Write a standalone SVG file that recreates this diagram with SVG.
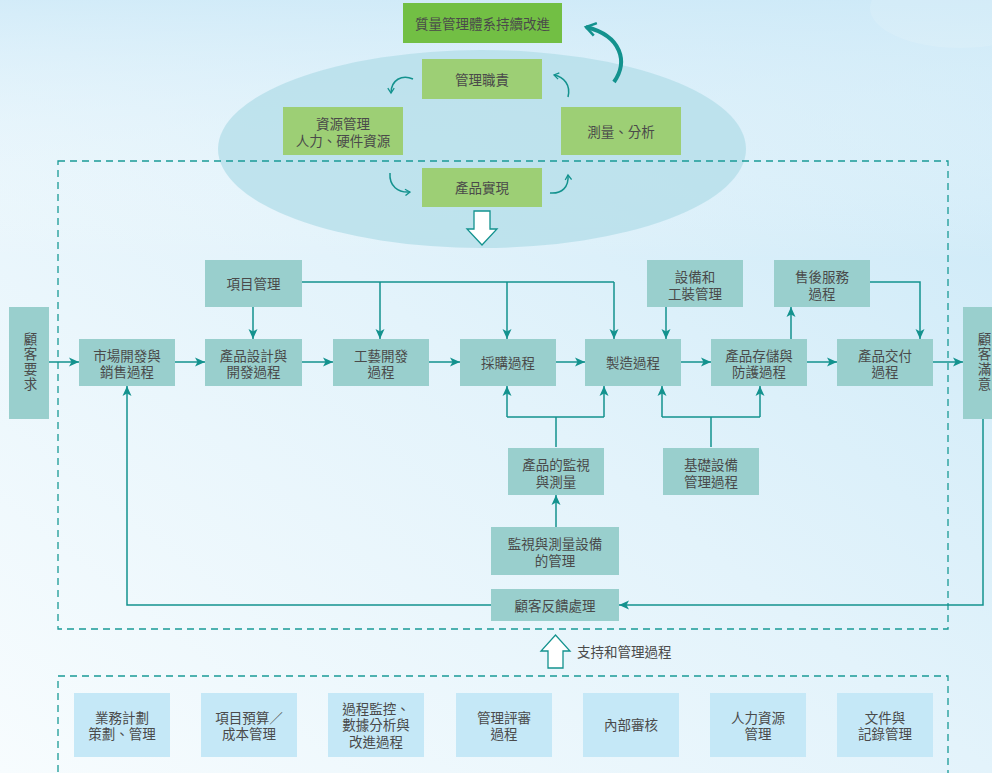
<svg xmlns="http://www.w3.org/2000/svg" width="992" height="773" viewBox="0 0 992 773">
<defs>
<linearGradient id="bg" x1="0" y1="1" x2="1" y2="0">
<stop offset="0" stop-color="#f7fcfe"/>
<stop offset="0.5" stop-color="#e3f3fb"/>
<stop offset="1" stop-color="#c9e8f7"/>
</linearGradient>
<linearGradient id="bg2" x1="0" y1="0" x2="0" y2="1">
<stop offset="0" stop-color="#cfeaf8" stop-opacity="0.8"/>
<stop offset="1" stop-color="#ffffff" stop-opacity="0"/>
</linearGradient>
<marker id="ah" viewBox="0 0 10 10" refX="10" refY="5" markerWidth="10" markerHeight="10" markerUnits="userSpaceOnUse" orient="auto">
<path d="M0,0.5 L10,5 L0,9.5 L2.5,5 z" fill="#13928e"/>
</marker>
<marker id="sh" viewBox="0 0 10 10" refX="8" refY="5" markerWidth="8" markerHeight="8" markerUnits="userSpaceOnUse" orient="auto">
<path d="M2,1 L8,5 L2,9" fill="none" stroke="#13928e" stroke-width="1.6"/>
</marker>
<marker id="bh" viewBox="0 0 10 10" refX="8" refY="5" markerWidth="16" markerHeight="16" markerUnits="userSpaceOnUse" orient="auto">
<path d="M2,1 L8,5 L2,9" fill="none" stroke="#13928e" stroke-width="1.6"/>
</marker>
</defs>
<style>
text{font-family:"Liberation Sans","Noto Sans CJK TC","Noto Sans CJK SC",sans-serif;font-size:13.5px;fill:#4a4a4a;text-anchor:middle;dominant-baseline:central}
.v{writing-mode:vertical-rl;letter-spacing:1.5px}
.p{fill:#99cfcd}
.g{fill:#9dcf75}
.gt{fill:#72bf44}
.b{fill:#c5e8f7}
.c{fill:none;stroke:#13928e;stroke-width:1.5}
.ca{fill:none;stroke:#13928e;stroke-width:1.5;marker-end:url(#ah)}
.d{fill:none;stroke:#1a9a96;stroke-width:1.3;stroke-dasharray:7,5}
</style>
<rect width="992" height="773" fill="url(#bg)"/>
<rect width="992" height="260" fill="url(#bg2)"/>
<ellipse cx="960" cy="8" rx="90" ry="40" fill="#ffffff" opacity="0.12"/>

<ellipse cx="482" cy="149" rx="264" ry="99" fill="#b5dfea" opacity="0.8"/>

<g id="frames">
<rect class="d" x="58" y="161" width="890" height="468"/>
<rect class="d" x="58" y="676" width="890" height="100"/>
</g>

<g id="connectors">
<path d="M614,82 C628,62 622,36 586,27" fill="none" stroke="#13928e" stroke-width="4" marker-end="url(#bh)"/>
<path d="M413,79 C402,74 391,80 391,93" class="c" marker-end="url(#sh)"/>
<path d="M568,97 C571,85 564,77 554,75" class="c" marker-end="url(#sh)"/>
<path d="M390,173 C389,186 398,193 410,192" class="c" marker-end="url(#sh)"/>
<path d="M550,193 C562,194 569,187 568,175" class="c" marker-end="url(#sh)"/>
<path d="M474,211 H490 V229 H497 L482,245 L467,229 H474 Z" fill="#ffffff" stroke="#13928e" stroke-width="1.3"/>
<path d="M548,668 H563 V651 H570 L555.5,635 L541,651 H548 Z" fill="#ffffff" stroke="#13928e" stroke-width="1.3"/>

<path class="ca" d="M49,362 H79"/>
<path class="ca" d="M175,362 H205"/>
<path class="ca" d="M302,362 H333"/>
<path class="ca" d="M429,362 H460"/>
<path class="ca" d="M556,362 H585"/>
<path class="ca" d="M681,362 H711"/>
<path class="ca" d="M807,362 H837"/>
<path class="ca" d="M933,362 H963"/>
<path class="ca" d="M253,307 V339"/>
<path class="c" d="M302,282 H614"/>
<path class="ca" d="M380,282 V339"/>
<path class="ca" d="M507,282 V339"/>
<path class="ca" d="M614,282 V339"/>
<path class="ca" d="M666,307 V339"/>
<path class="ca" d="M791,339 V307"/>
<path class="ca" d="M870,282 H920 V339"/>
<path class="c" d="M556,447 V417 M507,417 H604"/>
<path class="ca" d="M507,417 V386"/>
<path class="ca" d="M604,417 V386"/>
<path class="c" d="M711,447 V417 M662,417 H760"/>
<path class="ca" d="M662,417 V386"/>
<path class="ca" d="M760,417 V386"/>
<path class="ca" d="M556,527 V495"/>
<path class="ca" d="M983,418 V605 H619"/>
<path class="ca" d="M491,605 H127 V386"/>
</g>

<g id="n-top"><rect class="gt" x="403" y="3" width="159" height="40"/><text x="482.5" y="24" font-size="14">質量管理體系持續改進</text></g>
<g id="n-mgmt"><rect class="g" x="422" y="59" width="120" height="40"/><text x="482" y="80">管理職責</text></g>
<g id="n-res"><rect class="g" x="283" y="107" width="120" height="48"/><text x="343" y="124">資源管理<tspan x="343" dy="17">人力、硬件資源</tspan></text></g>
<g id="n-meas"><rect class="g" x="561" y="107" width="120" height="48"/><text x="621" y="132">測量、分析</text></g>
<g id="n-real"><rect class="g" x="422" y="168" width="120" height="39"/><text x="482" y="188.5">產品實現</text></g>
<text x="577" y="652" style="text-anchor:start">支持和管理過程</text>

<g id="n-req"><rect class="p" x="9" y="307" width="40" height="112"/><text class="v" x="29" y="362">顧客要求</text></g>
<g id="n-sat"><rect class="p" x="963" y="307" width="32" height="112"/><text class="v" x="983" y="362">顧客滿意</text></g>

<g id="n-proj"><rect class="p" x="205" y="260" width="97" height="47"/><text x="253.5" y="284.5">項目管理</text></g>
<g id="n-equip"><rect class="p" x="647" y="260" width="96" height="47"/><text x="695" y="277">設備和<tspan x="695" dy="17">工裝管理</tspan></text></g>
<g id="n-after"><rect class="p" x="774" y="260" width="96" height="47"/><text x="822" y="277">售後服務<tspan x="822" dy="17">過程</tspan></text></g>

<g id="n-mkt"><rect class="p" x="79" y="339" width="96" height="47"/><text x="127" y="356">市場開發與<tspan x="127" dy="16">銷售過程</tspan></text></g>
<g id="n-design"><rect class="p" x="205" y="339" width="97" height="47"/><text x="253.5" y="356">產品設計與<tspan x="253.5" dy="16">開發過程</tspan></text></g>
<g id="n-tech"><rect class="p" x="333" y="339" width="96" height="47"/><text x="381" y="356">工藝開發<tspan x="381" dy="16">過程</tspan></text></g>
<g id="n-buy"><rect class="p" x="460" y="339" width="96" height="47"/><text x="508" y="363.5">採購過程</text></g>
<g id="n-mfg"><rect class="p" x="585" y="339" width="96" height="47"/><text x="633" y="363.5">製造過程</text></g>
<g id="n-store"><rect class="p" x="711" y="339" width="96" height="47"/><text x="759" y="356">產品存儲與<tspan x="759" dy="16">防護過程</tspan></text></g>
<g id="n-deliv"><rect class="p" x="837" y="339" width="96" height="47"/><text x="885" y="356">產品交付<tspan x="885" dy="16">過程</tspan></text></g>

<g id="n-monitor"><rect class="p" x="508" y="448" width="96" height="47"/><text x="556" y="465">產品的監視<tspan x="556" dy="17">與測量</tspan></text></g>
<g id="n-infra"><rect class="p" x="663" y="448" width="96" height="47"/><text x="711" y="465">基礎設備<tspan x="711" dy="17">管理過程</tspan></text></g>
<g id="n-mdev"><rect class="p" x="491" y="527" width="128" height="48"/><text x="555" y="544">監視與測量設備<tspan x="555" dy="17">的管理</tspan></text></g>
<g id="n-fb"><rect class="p" x="491" y="589" width="128" height="32"/><text x="555" y="606">顧客反饋處理</text></g>

<g id="n-s1"><rect class="b" x="74" y="693" width="96" height="64"/><text x="122" y="718">業務計劃<tspan x="122" dy="16">策劃、管理</tspan></text></g>
<g id="n-s2"><rect class="b" x="201" y="693" width="96" height="64"/><text x="249" y="718">項目預算／<tspan x="249" dy="16">成本管理</tspan></text></g>
<g id="n-s3"><rect class="b" x="328" y="693" width="96" height="64"/><text x="376" y="709">過程監控、<tspan x="376" dy="16">數據分析與</tspan><tspan x="376" dy="17">改進過程</tspan></text></g>
<g id="n-s4"><rect class="b" x="456" y="693" width="96" height="64"/><text x="504" y="718">管理評審<tspan x="504" dy="16">過程</tspan></text></g>
<g id="n-s5"><rect class="b" x="583" y="693" width="96" height="64"/><text x="631" y="725">內部審核</text></g>
<g id="n-s6"><rect class="b" x="710" y="693" width="96" height="64"/><text x="758" y="718">人力資源<tspan x="758" dy="16">管理</tspan></text></g>
<g id="n-s7"><rect class="b" x="837" y="693" width="96" height="64"/><text x="885" y="718">文件與<tspan x="885" dy="16">記錄管理</tspan></text></g>
</svg>
